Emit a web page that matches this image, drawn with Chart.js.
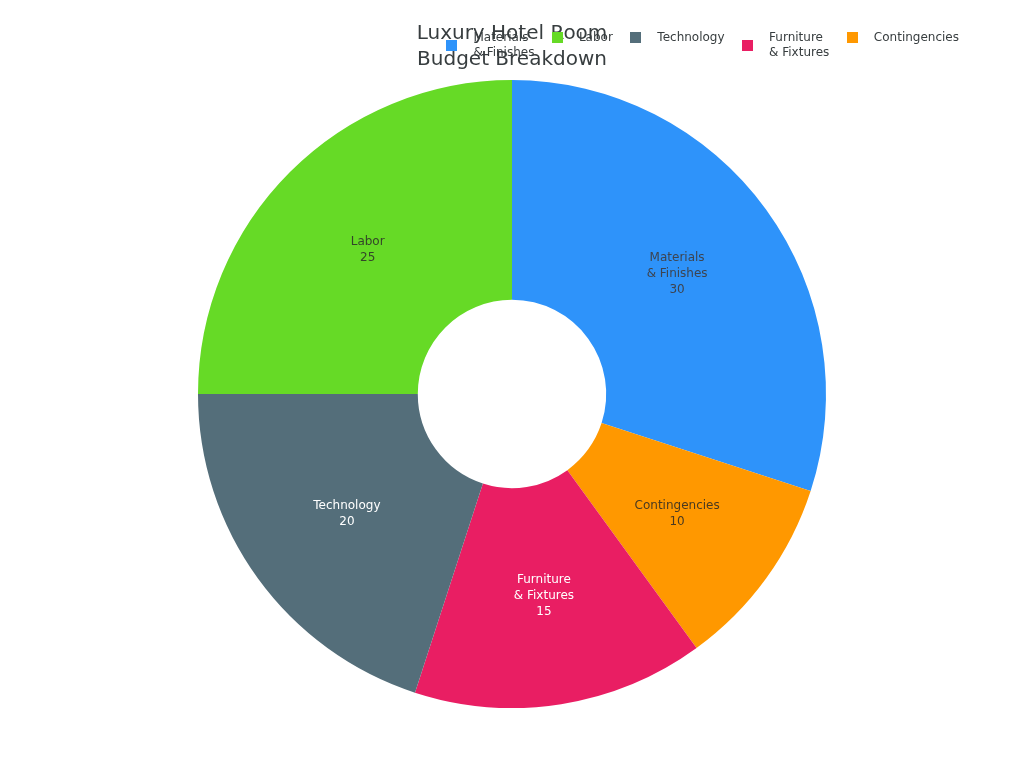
<!DOCTYPE html>
<html>
<head>
<meta charset="utf-8">
<script src="https://cdn.jsdelivr.net/npm/chart.js@4.4.1/dist/chart.umd.min.js"></script>
<style>
  html, body { margin: 0; padding: 0; background: #ffffff; }
  #wrap { position: relative; width: 1024px; height: 768px; }
  #legend {
    position: absolute; top: 30px; right: 65px;
    display: flex; align-items: flex-start; gap: 17.5px;
    font: 12px/15px "DejaVu Sans", sans-serif; color: #373d3f;
  }
  .item { display: flex; align-items: center; }
  .box { width: 11px; height: 11px; margin-right: 16px; flex: none; }
</style>
</head>
<body>
<div id="wrap"><canvas id="budgetChart"></canvas><div id="legend"></div></div>
<script>
// slices in drawing order, clockwise from the top
const categories = [["Materials", "& Finishes"], "Contingencies", ["Furniture", "& Fixtures"], "Technology", "Labor"];
const budget = [30, 10, 15, 20, 25];
const sliceColors = ["#2E93FA", "#FF9800", "#E91E63", "#546E7A", "#66DA26"];
const labelColors = ["#3d4450", "#4a3a20", "#ffffff", "#ffffff", "#34452a"];
// order of the items in the legend (indexes into the arrays above)
const legendOrder = [0, 4, 3, 2, 1];

// draws "name / value" inside each slice
const sliceLabels = {
  id: "sliceLabels",
  afterDatasetsDraw(chart) {
    const ctx = chart.ctx;
    const meta = chart.getDatasetMeta(0);
    ctx.save();
    ctx.font = '12px "DejaVu Sans"';
    ctx.textAlign = "center";
    ctx.textBaseline = "middle";
    meta.data.forEach((arc, i) => {
      const pos = arc.tooltipPosition();
      const lines = [].concat(categories[i], String(budget[i]));
      const lh = 16;
      const y0 = pos.y - ((lines.length - 1) * lh) / 2;
      ctx.fillStyle = labelColors[i];
      lines.forEach((t, j) => ctx.fillText(t, pos.x, y0 + j * lh));
    });
    ctx.restore();
  },
};

const data = {
  labels: categories,
  datasets: [
    {
      data: budget,
      backgroundColor: sliceColors,
      borderWidth: 0,
      hoverOffset: 0,
    },
  ],
};

const config = {
  type: "doughnut",
  data,
  options: {
    responsive: true,
    maintainAspectRatio: false,
    animation: false,
    cutout: "30%",
    layout: {
      padding: { top: 0, bottom: 60, left: 0, right: 0 },
    },
    plugins: {
      title: {
        display: true,
        text: ["Luxury Hotel Room", "Budget Breakdown"],
        align: "center",
        color: "#373d3f",
        font: { family: "DejaVu Sans", size: 20, weight: "normal", lineHeight: 1.3 },
        padding: { top: 21, bottom: 7 },
      },
      legend: { display: false },
      tooltip: { enabled: false },
    },
  },
  plugins: [sliceLabels],
};

const canvas = document.getElementById("budgetChart");
const myChart = new Chart(canvas, config);

// legend as html, in the reference order
const legendEl = document.getElementById("legend");
legendOrder.forEach((i) => {
  const item = document.createElement("div");
  item.className = "item";
  const box = document.createElement("span");
  box.className = "box";
  box.style.background = sliceColors[i];
  const text = document.createElement("span");
  text.innerHTML = [].concat(categories[i]).join("<br>");
  item.appendChild(box);
  item.appendChild(text);
  legendEl.appendChild(item);
});
</script>
</body>
</html>
